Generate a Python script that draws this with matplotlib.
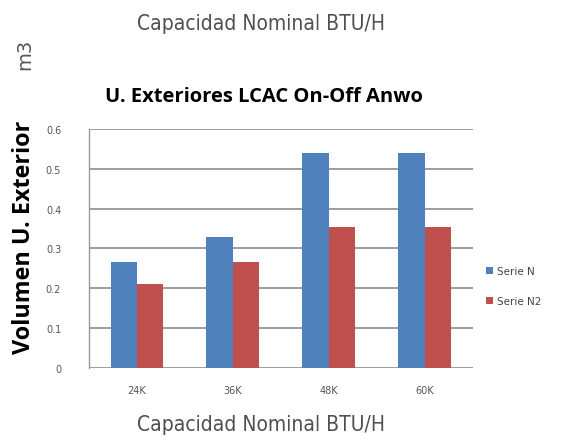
import matplotlib
matplotlib.use('Agg')
import matplotlib.pyplot as plt
import numpy as np

# chart data
categorias = ['24K', '36K', '48K', '60K']
serie_n = [0.265, 0.33, 0.54, 0.54]
serie_n2 = [0.21, 0.267, 0.355, 0.355]
y_ticks = [0, 0.1, 0.2, 0.3, 0.4, 0.5, 0.6]
y_tick_labels = ['0', '0.1', '0.2', '0.3', '0.4', '0.5', '0.6']

azul = '#4F81BD'
rojo = '#C0504D'

fig = plt.figure(figsize=(5.67, 4.39), dpi=100)
ax = fig.add_axes([0.157, 0.1595, 0.677, 0.5444])

x = np.arange(len(categorias))
w = 0.276
ax.bar(x - w / 2, serie_n, w, color=azul, label='Serie N', zorder=3)
ax.bar(x + w / 2, serie_n2, w, color=rojo, label='Serie N2', zorder=3)

ax.set_xlim(-0.5, len(categorias) - 0.5)
ax.set_ylim(0, 0.6)
ax.set_yticks(y_ticks)
ax.set_yticklabels(y_tick_labels)
ax.set_xticks(x)
ax.set_xticklabels(categorias)
ax.tick_params(length=0, labelsize=7, colors='#555555')
ax.tick_params(axis='y', pad=20)
ax.tick_params(axis='x', pad=12)
ax.yaxis.grid(True, color='#8c8c8c', linewidth=1.2, zorder=0)
for s in ['top', 'right', 'bottom']:
  ax.spines[s].set_visible(False)
ax.spines['left'].set_color('#9a9a9a')
ax.spines['left'].set_linewidth(1.0)

ax.legend(loc='center left', bbox_to_anchor=(1.01, 0.343), frameon=False,
          fontsize=7.5, handlelength=0.7, handleheight=0.7, handletextpad=0.3,
          labelspacing=1.9, labelcolor='#444444')

fig.text(0.461, 0.945, 'Capacidad Nominal BTU/H', ha='center', va='center',
         fontsize=15, color='#505050', family='DejaVu Sans', stretch='condensed')
fig.text(0.043, 0.875, 'm3', ha='center', va='center', rotation=90,
         fontsize=14, color='#555555')
fig.text(0.465, 0.78, 'U. Exteriores LCAC On-Off Anwo', ha='center',
         va='center', fontsize=14.5, fontweight='bold', family='Open Sans')
fig.text(0.042, 0.46, 'Volumen U. Exterior', ha='center', va='center',
         rotation=90, fontsize=16.8, fontweight='bold', family='Open Sans')
fig.text(0.461, 0.032, 'Capacidad Nominal BTU/H', ha='center', va='center',
         fontsize=15, color='#505050', family='DejaVu Sans', stretch='condensed')

plt.savefig('out.png', dpi=100)
